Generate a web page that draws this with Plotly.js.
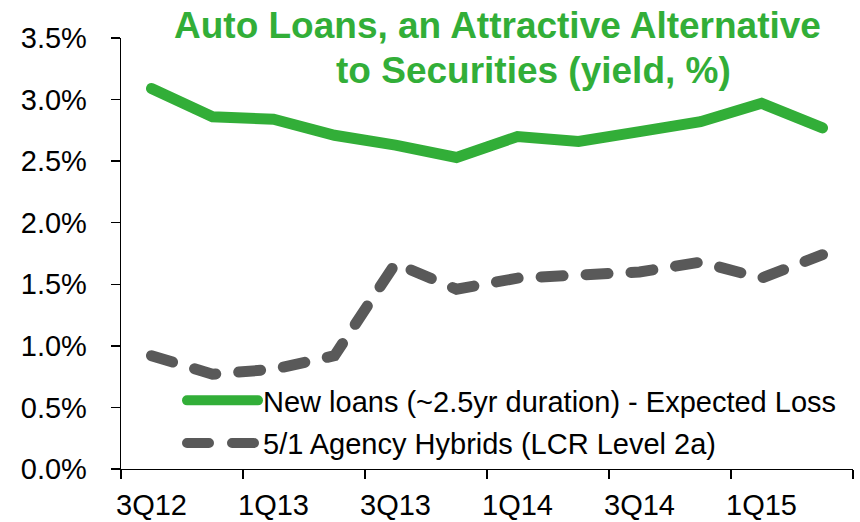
<!DOCTYPE html>
<html>
<head>
<meta charset="utf-8">
<script src="https://cdn.plot.ly/plotly-3.0.1.min.js"></script>
<style>
  body { margin: 0; background: #fff; }
  #chart { width: 860px; height: 522px; }
  path.js-line { stroke-linecap: round; }
</style>
</head>
<body>
<div id="chart"></div>
<script>
const quarters = ["3Q12","4Q12","1Q13","2Q13","3Q13","4Q13","1Q14","2Q14","3Q14","4Q14","1Q15","2Q15"];
const newLoans = [3.09, 2.86, 2.84, 2.71, 2.63, 2.53, 2.70, 2.66, 2.74, 2.82, 2.97, 2.77];
const agencyHybrids = [0.92, 0.77, 0.81, 0.92, 1.67, 1.46, 1.55, 1.57, 1.60, 1.68, 1.55, 1.74];
const xTickLabels = ["3Q12","1Q13","3Q13","1Q14","3Q14","1Q15"];
const yTicks = [0, 0.5, 1.0, 1.5, 2.0, 2.5, 3.0, 3.5];
const yTickLabels = ["0.0%","0.5%","1.0%","1.5%","2.0%","2.5%","3.0%","3.5%"];
const seriesNames = ["New loans (~2.5yr duration) - Expected Loss", "5/1 Agency Hybrids (LCR Level 2a)"];
const titleLines = ["Auto Loans, an Attractive Alternative", "to Securities (yield, %)"];

const GREEN = "#32AE38";
const GRAY = "#595959";
const FONT = "Liberation Sans, Arial, sans-serif";

// boundaries between every second category, for the x-axis tick marks
const boundaryTicks = [];
for (let i = 0; i <= quarters.length; i += 2) boundaryTicks.push(i - 0.5);

const traces = [
  {
    x: quarters, y: newLoans, name: seriesNames[0], type: "scatter", mode: "lines",
    legendgroup: "a",
    line: { color: GREEN, width: 11 }
  },
  {
    x: quarters, y: agencyHybrids, name: seriesNames[1], type: "scatter", mode: "lines",
    legendgroup: "b",
    line: { color: GRAY, width: 11, dash: "22px,23px" }
  },
  {
    // invisible helper on the tick-only axis
    x: [boundaryTicks[0]], y: [0], xaxis: "x2", type: "scatter", mode: "markers",
    marker: { opacity: 0 }, showlegend: false, hoverinfo: "skip"
  }
];

const layout = {
  width: 860, height: 522,
  margin: { l: 121, r: 7, t: 38, b: 53, autoexpand: false },
  paper_bgcolor: "#fff", plot_bgcolor: "#fff",
  font: { family: FONT, color: "#000" },
  showlegend: true,
  legend: {
    x: (182 - 121) / 732, xref: "paper", xanchor: "left",
    y: (469 - 375) / 431, yref: "paper", yanchor: "top",
    bgcolor: "rgba(0,0,0,0)",
    font: { family: FONT, size: 29, color: "#000" },
    itemwidth: 71,
    tracegroupgap: 2,
    traceorder: "grouped"
  },
  xaxis: {
    type: "category",
    categoryorder: "array", categoryarray: quarters,
    range: [-0.5, quarters.length - 0.5],
    tickmode: "array", tickvals: xTickLabels, ticktext: xTickLabels,
    ticks: "", showline: true, linecolor: "#000", linewidth: 1.3,
    showgrid: false, zeroline: false, automargin: false,
    tickfont: { family: FONT, size: 29, color: "#000" },
    ticklabelstandoff: 10,
    fixedrange: true
  },
  xaxis2: {
    overlaying: "x", anchor: "y",
    range: [-0.5, quarters.length - 0.5],
    tickmode: "array", tickvals: boundaryTicks,
    ticks: "outside", ticklen: 9, tickwidth: 1.3, tickcolor: "#000",
    showticklabels: false, showgrid: false, zeroline: false, showline: false,
    automargin: false
  },
  yaxis: {
    range: [0, 3.5],
    tickmode: "array", tickvals: yTicks, ticktext: yTickLabels,
    ticks: "outside", ticklen: 9, tickwidth: 1.3, tickcolor: "#000",
    showline: true, linecolor: "#000", linewidth: 1.3,
    showgrid: false, zeroline: false, automargin: false,
    tickfont: { family: FONT, size: 29, color: "#000" },
    ticklabelstandoff: 18,
    fixedrange: true
  },
  annotations: [
    {
      text: "<b>" + titleLines[0] + "</b>", xref: "paper", yref: "paper",
      x: (497 - 121) / 732, xanchor: "center",
      y: (469 - 25) / 431, yanchor: "middle",
      showarrow: false, font: { family: FONT, size: 37, color: GREEN }
    },
    {
      text: "<b>" + titleLines[1] + "</b>", xref: "paper", yref: "paper",
      x: (533 - 121) / 732, xanchor: "center",
      y: (469 - 70) / 431, yanchor: "middle",
      showarrow: false, font: { family: FONT, size: 37, color: GREEN }
    }
  ]
};

Plotly.newPlot("chart", traces, layout, { staticPlot: true, displayModeBar: false });
</script>
</body>
</html>
